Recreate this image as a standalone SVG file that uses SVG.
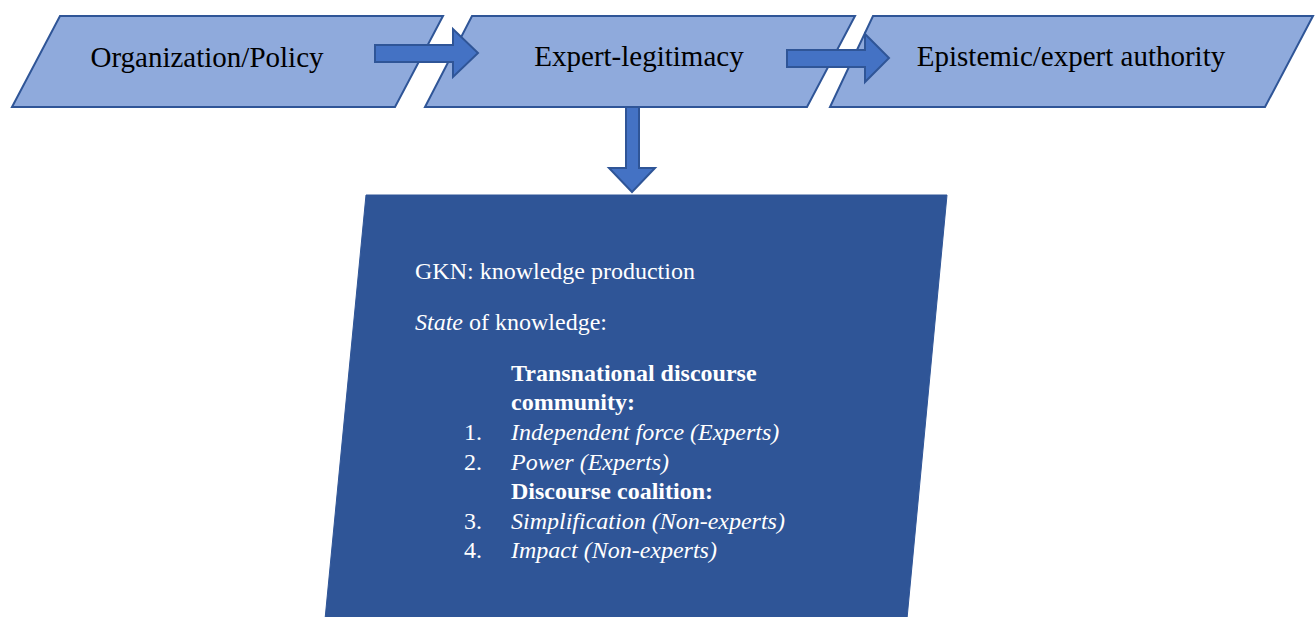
<svg xmlns="http://www.w3.org/2000/svg" width="1316" height="617" viewBox="0 0 1316 617">
  <style>
    .para { fill: #8FAADC; stroke: #2F5597; stroke-width: 2; }
    .block { fill: #2F5597; stroke: #2F5597; stroke-width: 1; }
    .arrow { fill: #4472C4; stroke: #2F5597; stroke-width: 2; stroke-linejoin: miter; }
    .label { font-family: 'Liberation Serif', 'Times New Roman', serif; font-size: 29px; fill: #000; text-anchor: middle; }
    .body { font-family: 'Liberation Serif', 'Times New Roman', serif; font-size: 24px; fill: #FFFFFF; }
    .it { font-style: italic; }
    .b { font-weight: bold; }
  </style>
  <rect width="1316" height="617" fill="#FFFFFF"/>

  <g id="node-organization">
    <polygon class="para" points="60,16 443,16 395,107 12,107"/>
    <text class="label" x="207" y="67">Organization/Policy</text>
  </g>

  <g id="node-legitimacy">
    <polygon class="para" points="472,16 855,16 807,107 425,107"/>
    <text class="label" x="639" y="66">Expert-legitimacy</text>
  </g>

  <g id="node-authority">
    <polygon class="para" points="873,16 1313,16 1265,107 830,107"/>
    <text class="label" x="1071" y="66">Epistemic/expert authority</text>
  </g>

  <g id="node-gkn">
    <polygon class="block" points="366,195 947,195 905,640 323,640"/>
    <text class="body" x="415" y="279">GKN: knowledge production</text>
    <text class="body" x="415" y="330"><tspan class="it">State</tspan> of knowledge:</text>
    <text class="body b" x="511" y="381">Transnational discourse</text>
    <text class="body b" x="511" y="410">community:</text>
    <text class="body" x="464" y="440">1.</text>
    <text class="body it" x="511" y="440">Independent force (Experts)</text>
    <text class="body" x="464" y="470">2.</text>
    <text class="body it" x="511" y="470">Power (Experts)</text>
    <text class="body b" x="511" y="499">Discourse coalition:</text>
    <text class="body" x="464" y="529">3.</text>
    <text class="body it" x="511" y="529">Simplification (Non-experts)</text>
    <text class="body" x="464" y="558">4.</text>
    <text class="body it" x="511" y="558">Impact (Non-experts)</text>
  </g>

  <g id="connectors">
    <!-- Organization/Policy to Expert-legitimacy -->
    <polygon class="arrow" points="375,45 453,45 453,29 478,53 453,77 453,62 375,62"/>
    <!-- Expert-legitimacy to Epistemic/expert authority -->
    <polygon class="arrow" points="787,50 865,50 865,34 889,58 865,82 865,67 787,67"/>
    <!-- Expert-legitimacy down to GKN -->
    <polygon class="arrow" points="626,107 639,107 639,168 655,168 632,192 609,168 626,168"/>
  </g>
</svg>
